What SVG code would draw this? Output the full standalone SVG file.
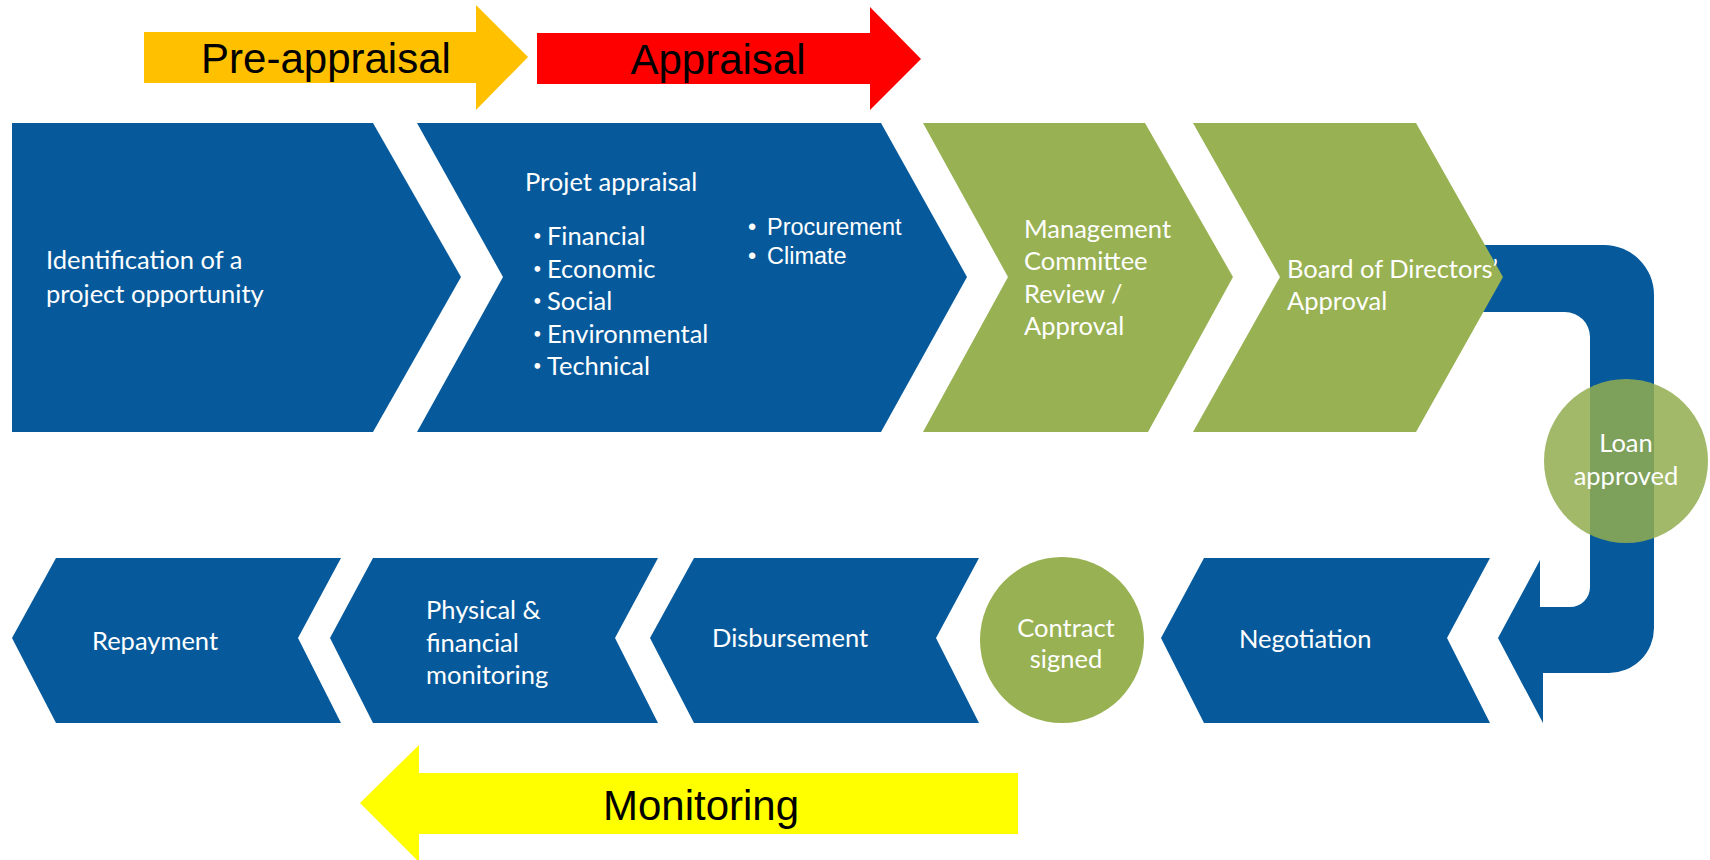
<svg xmlns="http://www.w3.org/2000/svg" width="1710" height="860" viewBox="0 0 1710 860">
<style>
.blue{fill:#065a9c}
.green{fill:#98b153}
.t{font-family:Lato,"Open Sans",sans-serif;font-size:25.5px;fill:#ffffff}
.b{font-family:Lato,"Open Sans",sans-serif;font-size:15px;fill:#ffffff}
.ta{font-family:"Liberation Sans",Arial,sans-serif;font-size:23.5px;fill:#ffffff}
.big{font-family:"Liberation Sans",Arial,sans-serif;font-size:42px;fill:#000000;text-anchor:middle}
.c{text-anchor:middle}
</style>
<rect width="1710" height="860" fill="#ffffff"/>
<g id="phase-arrows">
<g id="pre-appraisal">
<polygon points="144,32 476,32 476,5 528,57 476,110 476,83 144,83" fill="#ffc000"/>
<text class="big" x="326" y="73">Pre-appraisal</text>
</g>
<g id="appraisal">
<polygon points="537,33 870,33 870,7 921,59 870,110 870,84 537,84" fill="#ff0000"/>
<text class="big" x="718" y="74">Appraisal</text>
</g>
<g id="monitoring">
<polygon points="1018,773 419,773 419,745 360,803 419,862 419,834 1018,834" fill="#ffff00"/>
<text class="big" x="701" y="820">Monitoring</text>
</g>
</g>
<g id="connectors">
<path class="blue" d="M1400,245 H1604 A50,50 0 0 1 1654,295 V628 A45,45 0 0 1 1609,673 H1543 V723 L1498,638 L1540,560 V607 H1570 A20,20 0 0 0 1590,587 V337 A25,25 0 0 0 1565,312 H1400 Z"/>
</g>
<g id="identification">
<polygon class="blue" points="12,123 373,123 461,277 373,432 12,432"/>
<text class="t" x="46" y="269">Identification of a</text>
<text class="t" x="46" y="303">project opportunity</text>
</g>
<g id="project-appraisal">
<polygon class="blue" points="417,123 881,123 967,277 881,432 417,432 503,277"/>
<text class="t" x="525" y="191">Projet appraisal</text>
<text class="b" x="533" y="241">•</text><text class="t" x="547" y="245">Financial</text>
<text class="b" x="533" y="274">•</text><text class="t" x="547" y="278">Economic</text>
<text class="b" x="533" y="306">•</text><text class="t" x="547" y="310">Social</text>
<text class="b" x="533" y="339">•</text><text class="t" x="547" y="343">Environmental</text>
<text class="b" x="533" y="371">•</text><text class="t" x="547" y="375">Technical</text>
<text class="ta" x="748" y="235">•</text><text class="ta" x="767" y="235">Procurement</text>
<text class="ta" x="748" y="264">•</text><text class="ta" x="767" y="264">Climate</text>
</g>
<g id="management-committee">
<polygon class="green" points="923,123 1145,123 1233,277 1148,432 923,432 1008,277"/>
<text class="t" x="1024" y="238">Management</text>
<text class="t" x="1024" y="270">Committee</text>
<text class="t" x="1024" y="303">Review /</text>
<text class="t" x="1024" y="335">Approval</text>
</g>
<g id="board-approval">
<polygon class="green" points="1193,123 1416,123 1503,277 1416,432 1193,432 1280,277"/>
<text class="t" x="1287" y="278">Board of Directors’</text>
<text class="t" x="1287" y="310">Approval</text>
</g>
<g id="loan-approved">
<circle cx="1626" cy="461" r="82" fill="#93ad50" fill-opacity="0.85"/>
<text class="t c" x="1626" y="452">Loan</text>
<text class="t c" x="1626" y="485">approved</text>
</g>
<g id="negotiation">
<polygon class="blue" points="1204,558 1490,558 1447,638 1490,723 1204,723 1161,638"/>
<text class="t" x="1239" y="648">Negotiation</text>
</g>
<g id="contract-signed">
<ellipse cx="1062" cy="640" rx="82" ry="83" class="green"/>
<text class="t c" x="1066" y="637">Contract</text>
<text class="t c" x="1066" y="668">signed</text>
</g>
<g id="disbursement">
<polygon class="blue" points="694,558 979,558 936,638 979,723 694,723 650,638"/>
<text class="t" x="712" y="647">Disbursement</text>
</g>
<g id="physical-monitoring">
<polygon class="blue" points="373,558 658,558 615,638 658,723 373,723 330,638"/>
<text class="t" x="426" y="619">Physical &amp;</text>
<text class="t" x="426" y="652">financial</text>
<text class="t" x="426" y="684">monitoring</text>
</g>
<g id="repayment">
<polygon class="blue" points="56,558 341,558 298,638 341,723 56,723 12,638"/>
<text class="t" x="92" y="650">Repayment</text>
</g>
</svg>
